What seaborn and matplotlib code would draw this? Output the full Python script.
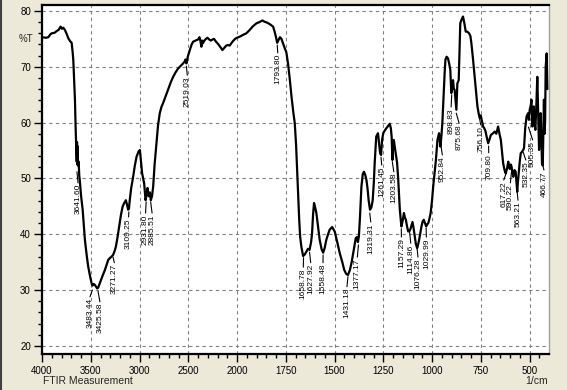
import numpy as np
import pandas as pd
import seaborn as sns
import matplotlib
matplotlib.use('Agg')
import matplotlib.pyplot as plt
from matplotlib.ticker import FixedLocator, MultipleLocator
from matplotlib.lines import Line2D

# spectrum (1/cm, %T)
wavenumber = [
    4000, 3960, 3935, 3915, 3900, 3870, 3850, 3830, 3809, 3795,
    3782, 3765, 3745, 3730, 3712, 3696, 3685, 3679, 3670, 3662,
    3655, 3648, 3644, 3641, 3638, 3635, 3630, 3624, 3618, 3611,
    3600, 3583, 3560, 3540, 3526, 3505, 3491, 3483, 3470, 3457,
    3445, 3434, 3425, 3406, 3380, 3355, 3321, 3300, 3286, 3271,
    3255, 3242, 3225, 3208, 3190, 3174, 3160, 3140, 3128, 3116,
    3108, 3100, 3085, 3065, 3048, 3030, 3010, 2996, 2985, 2973,
    2960, 2952, 2938, 2930, 2918, 2910, 2904, 2894, 2884, 2872,
    2860, 2845, 2826, 2810, 2792, 2775, 2758, 2730, 2707, 2680,
    2655, 2630, 2604, 2575, 2553, 2535, 2529, 2519, 2505, 2484,
    2465, 2450, 2425, 2399, 2385, 2375, 2365, 2358, 2350, 2335,
    2318, 2303, 2285, 2269, 2250, 2236, 2215, 2190, 2165, 2150,
    2130, 2110, 2093, 2075, 2055, 2041, 2020, 2000, 1986, 1970,
    1952, 1935, 1920, 1900, 1885, 1870, 1860, 1845, 1830, 1815,
    1807, 1800, 1794, 1787, 1780, 1772, 1765, 1757, 1747, 1738,
    1730, 1720, 1710, 1704, 1697, 1691, 1686, 1681, 1676, 1670,
    1661, 1652, 1644, 1636, 1628, 1620, 1615, 1610, 1605, 1599,
    1593, 1585, 1576, 1566, 1558, 1550, 1542, 1533, 1525, 1512,
    1499, 1486, 1473, 1460, 1450, 1440, 1431, 1421, 1412, 1404,
    1397, 1391, 1385, 1380, 1375, 1370, 1362, 1355, 1349, 1342,
    1336, 1330, 1325, 1318, 1311, 1304, 1298, 1294, 1286, 1277,
    1272, 1266, 1261, 1256, 1250, 1242, 1234, 1225, 1217, 1211,
    1207, 1203, 1199, 1196, 1190, 1186, 1179, 1173, 1165, 1157,
    1150, 1144, 1139, 1134, 1128, 1122, 1115, 1110, 1100, 1094,
    1088, 1083, 1076, 1071, 1066, 1060, 1054, 1048, 1042, 1036,
    1030, 1024, 1019, 1013, 1007, 1000, 994, 987, 980, 972,
    964, 957, 952, 947, 940, 935, 931, 925, 918, 912,
    906, 901, 896, 892, 888, 884, 879, 875, 870, 863,
    859, 855, 848, 841, 834, 827, 819, 810, 803, 798,
    790, 781, 774, 767, 760, 755, 750, 745, 738, 732,
    726, 720, 712, 705, 698, 690, 678, 670, 661, 654,
    647, 641, 635, 628, 622, 615, 609, 604, 601, 596,
    592, 588, 583, 577, 571, 567, 563, 559, 555, 550,
    545, 538, 532, 528, 522, 515, 510, 507, 503, 499,
    494, 490, 485, 482, 478, 474, 470, 465, 460, 455,
    451, 447, 443, 439, 436, 432, 428, 426, 423, 420,
    417, 412, 408,
]
transmittance = [
    75.3, 75.2, 75.3, 75.8, 76.0, 76.1, 76.4, 76.6, 77.2, 76.8,
    77.0, 76.6, 75.8, 75.1, 74.6, 74.3, 72.5, 71.2, 67.5, 64.1,
    59.0, 55.5, 53.0, 56.5, 52.5, 55.8, 52.3, 53.0, 50.5, 49.4,
    47.0, 44.4, 39.0, 36.0, 34.2, 32.3, 31.2, 30.8, 31.1, 30.9,
    30.6, 30.3, 30.4, 31.3, 32.5, 33.6, 35.4, 35.8, 36.0, 36.3,
    37.0, 37.8, 39.5, 41.4, 43.5, 44.9, 45.5, 46.1, 45.3, 44.4,
    44.6, 46.1, 48.3, 50.3, 52.3, 53.9, 54.8, 55.1, 53.0, 50.9,
    49.8, 49.1, 46.1, 46.8, 48.3, 47.2, 46.8, 47.5, 46.1, 46.8,
    48.5, 52.5, 56.3, 59.5, 61.7, 62.8, 63.5, 64.8, 65.9, 67.2,
    68.2, 69.0, 69.7, 70.2, 70.6, 71.0, 71.3, 70.6, 71.8, 73.0,
    74.0, 74.5, 74.7, 74.9, 75.3, 74.6, 73.6, 74.7, 74.2, 74.7,
    75.0, 75.2, 74.9, 74.7, 74.9, 75.0, 74.5, 74.0, 73.4, 73.0,
    73.4, 73.8, 73.9, 73.8, 74.3, 74.6, 75.0, 75.2, 75.4, 75.7,
    76.0, 76.6, 77.2, 77.8, 78.0, 78.3, 78.1, 77.9, 77.6, 77.2,
    76.3, 75.3, 74.3, 74.8, 75.3, 75.0, 74.3, 73.5, 72.6, 70.5,
    68.0, 64.5, 61.5, 60.0, 56.0, 50.9, 46.5, 42.6, 39.5, 37.8,
    36.1, 36.4, 36.9, 37.4, 37.2, 38.6, 40.2, 43.5, 45.6, 44.8,
    43.8, 41.5, 39.0, 37.3, 36.7, 37.6, 39.0, 40.0, 40.8, 41.3,
    40.5, 38.6, 36.6, 35.0, 33.6, 32.9, 32.7, 33.6, 35.0, 36.6,
    38.0, 39.3, 39.5, 38.6, 39.6, 42.6, 48.5, 50.8, 51.2, 50.6,
    49.7, 48.0, 46.1, 44.4, 44.8, 46.1, 49.5, 52.7, 57.5, 58.1,
    56.5, 54.5, 54.2, 56.9, 58.1, 58.6, 59.0, 59.4, 59.8, 59.0,
    57.5, 53.3, 56.0, 56.9, 55.5, 54.5, 52.8, 49.7, 44.4, 41.4,
    42.5, 43.8, 43.0, 42.6, 41.4, 40.5, 40.6, 41.0, 42.2, 41.0,
    39.6, 38.3, 37.5, 38.2, 39.0, 40.2, 41.4, 42.3, 42.6, 42.0,
    41.4, 41.8, 42.0, 42.8, 43.8, 46.0, 48.5, 51.0, 53.3, 56.9,
    58.1, 55.7, 57.5, 59.9, 65.3, 69.0, 71.3, 71.8, 71.5, 70.6,
    69.4, 65.3, 67.0, 67.6, 66.0, 65.9, 64.0, 62.3, 67.0, 67.6,
    72.5, 77.8, 78.5, 79.0, 77.8, 76.3, 76.3, 76.0, 75.5, 74.2,
    71.5, 68.2, 65.5, 62.9, 61.5, 60.8, 61.3, 60.5, 59.3, 59.0,
    58.5, 57.5, 56.3, 57.0, 57.8, 58.0, 58.4, 58.0, 59.3, 58.0,
    56.9, 54.8, 52.7, 51.5, 50.9, 51.8, 53.0, 52.0, 51.7, 52.5,
    52.1, 51.0, 50.3, 51.5, 51.2, 49.5, 47.6, 49.5, 51.0, 53.0,
    54.5, 54.8, 55.1, 55.5, 59.0, 61.1, 61.5, 61.7, 60.5, 62.3,
    63.0, 64.1, 59.3, 61.0, 62.9, 60.0, 58.7, 63.0, 68.2, 61.0,
    55.1, 58.0, 61.7, 57.0, 52.7, 52.3, 60.0, 64.1, 58.0, 60.0,
    70.0, 72.4, 66.0,
]

# peak labels: value, text column (1/cm), tip of leader (%T), top of text (%T)
peak_val = [3641.60, 3483.44, 3425.58, 3271.27, 3109.25, 2931.80, 2885.51, 2519.03,
            1793.80, 1658.78, 1627.92, 1558.48, 1431.18, 1377.17, 1319.31, 1261.45,
            1203.58, 1157.29, 1114.86, 1076.28, 1029.99, 952.84, 898.83, 875.68,
            756.10, 709.80, 617.22, 590.22, 563.21, 532.35, 505.35, 466.77]
peak_tipx = [3641.60, 3483.44, 3425.58, 3271.27, 3109.25, 2931.80, 2885.51, 2519.03,
             1793.80, 1658.78, 1627.92, 1558.48, 1431.18, 1377.17, 1319.31, 1261.45,
             1203.58, 1157.29, 1114.86, 1076.28, 1029.99, 952.84, 898.83, 875.68,
             756.10, 709.80, 617.22, 590.22, 563.21, 532.35, 505.35, 432]
peak_textx = [3630, 3508, 3406, 3258, 3112, 2938, 2871, 2510,
              1791, 1660, 1622, 1559, 1436, 1383, 1314, 1258,
              1196, 1157, 1109, 1072, 1029, 947, 902, 861,
              750, 709, 632, 598, 559, 519, 484, 426]
peak_tip = [51.2, 30.0, 29.8, 35.9, 44.0, 45.8, 45.8, 70.1,
            73.9, 35.8, 36.8, 36.3, 32.4, 38.1, 43.8, 53.8,
            53.0, 41.0, 40.4, 37.4, 41.1, 55.6, 65.0, 61.7,
            60.7, 55.8, 51.2, 51.9, 47.6, 54.7, 59.2, 52.4]
peak_top = [49.2, 28.8, 27.9, 34.9, 43.1, 43.8, 43.8, 68.5,
            72.5, 34.1, 34.9, 34.9, 30.6, 35.9, 42.2, 52.4,
            51.2, 39.5, 38.4, 35.9, 39.5, 54.2, 62.8, 59.9,
            59.6, 54.6, 49.7, 49.2, 46.1, 53.3, 56.9, 51.5]

x_major = [4000, 3500, 3000, 2500, 2000, 1750, 1500, 1250, 1000, 750, 500]
y_major = [20, 30, 40, 50, 60, 70, 80]

sns.set_style('white')
plt.rcParams['font.family'] = ['Liberation Sans', 'DejaVu Sans']

df = pd.DataFrame({'wn': wavenumber, 'T': transmittance})

fig = plt.figure(figsize=(5.67, 3.90), dpi=100, facecolor='#ECE9D8')
ax = fig.add_axes([42 / 567, 1 - 354 / 390, 507 / 567, 349 / 390])
ax.set_facecolor('white')


# instrument axis: scale doubles below 2000 1/cm
def fwd(w):
    w = np.asarray(w, dtype=float)
    return np.where(w <= 2000, 2 * w, w + 2000)


def inv(u):
    u = np.asarray(u, dtype=float)
    return np.where(u <= 4000, u / 2, u - 2000)


ax.set_xscale('function', functions=(fwd, inv))

sns.lineplot(data=df, x='wn', y='T', ax=ax, sort=False, estimator=None,
             color='black', linewidth=1.6)

ax.set_xlim(4000, 400)
ax.set_ylim(18.55, 81.07)

ax.xaxis.set_major_locator(FixedLocator(x_major))
ax.xaxis.set_minor_locator(FixedLocator(list(range(3900, 2000, -100)) + list(range(1950, 400, -50))))
ax.set_xticklabels([str(v) for v in x_major])
ax.yaxis.set_major_locator(FixedLocator(y_major))
ax.yaxis.set_minor_locator(MultipleLocator(2))

ax.grid(True, which='major', color='#808080', linestyle=(0, (3, 3)), linewidth=0.8)
ax.tick_params(axis='both', which='major', direction='out', length=6, width=1,
               color='black', labelsize=7, labelcolor='black')
ax.tick_params(axis='both', which='minor', direction='out', length=3, width=1, color='black')
ax.tick_params(axis='x', which='both', bottom=True, pad=3)
ax.tick_params(axis='y', which='both', left=True, pad=2)

for side in ['top', 'left', 'bottom']:
    ax.spines[side].set_color('black')
    ax.spines[side].set_linewidth(1.6)
ax.spines['right'].set_color('#a0a0a0')
ax.spines['right'].set_linewidth(1.0)

ax.set_xlabel('')
ax.set_ylabel('')

# peak annotations
for v, tx, ty, lx, top in zip(peak_val, peak_tipx, peak_tip, peak_textx, peak_top):
    ax.plot([tx, lx], [ty, top], color='black', linewidth=0.8)
    ax.text(lx, top - 0.2, f'{v:.2f}', rotation=90, ha='center', va='top',
            fontsize=6, color='black')

ax.text(-0.018, 74.9, '%T', transform=ax.get_yaxis_transform(), ha='right',
        va='center', fontsize=7)
fig.text(43 / 567, 1 - 381 / 390, 'FTIR Measurement', ha='left', va='center', fontsize=7.5)
fig.text(548 / 567, 1 - 381 / 390, '1/cm', ha='right', va='center', fontsize=7.5)

fig.add_artist(Line2D([0.001, 0.001], [0, 1], transform=fig.transFigure, color='#404040', linewidth=1.5))

fig.savefig('out.png', dpi=100, facecolor=fig.get_facecolor())
